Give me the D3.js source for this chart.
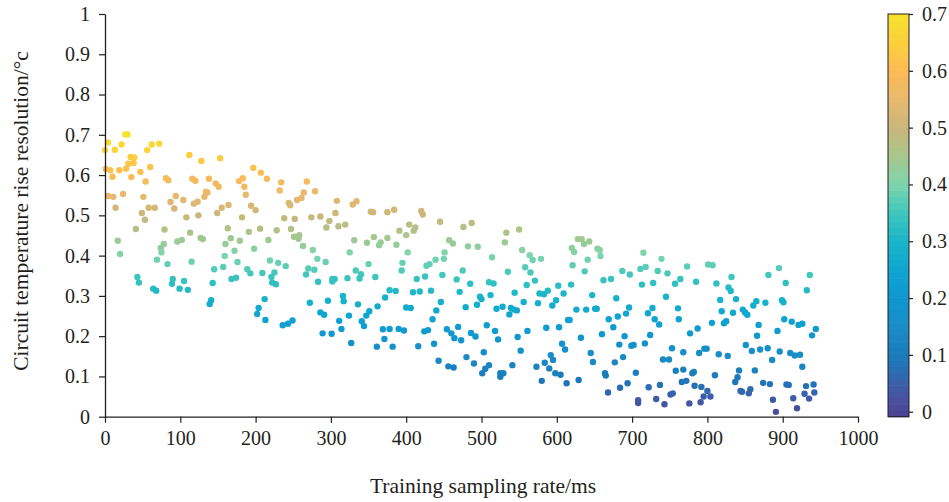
<!DOCTYPE html>
<html>
<head>
<meta charset="utf-8">
<script src="https://cdn.jsdelivr.net/npm/d3@7"></script>
<style>
  body { margin: 0; background: #fff; }
  svg text { font-family: "Liberation Serif", "DejaVu Serif", serif; fill: #231f20; }
</style>
</head>
<body>
<svg id="chart" width="949" height="502"></svg>
<script>
// [sampling rate (ms), temperature rise resolution (°c)]
const rate0to250 = [
  [27, .701], [30, .701], [4, .681], [0, .662], [13, .663], [22, .676], [56, .662], [62, .676], [72, .678], [34, .645],
  [39, .644], [38, .630], [31, .628], [28, .616], [19, .612], [1, .615], [7, .612], [10, .596], [35, .595], [47, .608],
  [60, .620], [54, .584], [112, .650], [128, .635], [153, .642], [81, .592], [84, .587], [116, .591], [120, .586], [138, .591],
  [147, .579], [151, .571], [178, .585], [183, .592], [185, .571], [187, .551], [197, .618], [207, .606], [215, .591], [234, .582],
  [232, .562], [4, .548], [11, .546], [24, .553], [51, .546], [14, .519], [49, .506], [58, .519], [66, .519], [53, .489],
  [87, .533], [94, .548], [104, .538], [92, .517], [118, .529], [123, .534], [134, .559], [136, .557], [132, .546], [108, .495],
  [124, .500], [149, .506], [155, .519], [164, .526], [182, .495], [194, .524], [200, .513], [244, .531], [246, .525], [238, .493],
  [252, .491], [41, .466], [79, .465], [113, .457], [127, .444], [130, .441], [96, .435], [102, .439], [163, .468], [167, .443],
  [160, .429], [191, .459], [206, .467], [228, .463], [247, .466], [251, .447], [217, .439], [179, .437], [172, .412], [198, .417],
  [17, .437], [20, .404], [74, .419], [78, .429], [75, .408], [69, .390], [83, .379], [115, .385], [159, .399], [157, .372],
  [145, .366], [176, .384], [189, .366], [193, .356], [209, .357], [219, .388], [225, .358], [230, .382], [240, .374], [221, .347],
  [222, .333], [227, .329], [43, .347], [45, .333], [64, .318], [68, .313], [90, .342], [89, .330], [99, .318], [105, .337],
  [110, .315], [143, .332], [141, .289], [139, .280], [168, .342], [174, .345], [212, .292], [204, .270], [202, .255], [213, .240],
  [236, .227], [243, .231], [249, .239]
];
const rate250to510 = [
  [268, .584], [279, .560], [264, .557], [261, .543], [255, .538], [308, .536], [329, .527], [334, .535], [306, .506], [274, .495],
  [286, .497], [298, .486], [294, .470], [310, .473], [319, .477], [353, .509], [356, .508], [375, .508], [384, .514], [420, .511],
  [422, .502], [445, .484], [476, .471], [487, .481], [391, .462], [404, .477], [412, .470], [410, .462], [400, .451], [375, .444],
  [357, .446], [348, .432], [366, .433], [364, .426], [387, .427], [331, .438], [325, .408], [258, .451], [257, .442], [263, .424],
  [276, .414], [282, .392], [293, .384], [270, .368], [278, .365], [267, .353], [283, .335], [302, .342], [305, .342], [302, .336],
  [322, .344], [333, .363], [340, .354], [338, .343], [350, .379], [359, .347], [394, .363], [395, .382], [402, .408], [427, .375],
  [431, .379], [439, .390], [451, .408], [450, .392], [448, .352], [425, .348], [414, .342], [457, .438], [462, .430], [482, .423],
  [495, .422], [475, .363], [467, .341], [485, .330], [471, .310], [479, .272], [494, .278], [498, .298], [500, .292], [378, .314],
  [386, .312], [372, .296], [362, .274], [336, .279], [316, .300], [317, .287], [296, .288], [272, .283], [286, .259], [291, .253],
  [311, .238], [324, .251], [314, .218], [289, .207], [301, .206], [327, .183], [341, .237], [344, .225], [347, .251], [351, .262],
  [369, .217], [378, .218], [390, .218], [397, .214], [371, .193], [361, .174], [382, .174], [400, .271], [406, .270], [409, .309],
  [418, .311], [433, .313], [446, .285], [440, .264], [435, .242], [424, .212], [429, .215], [454, .217], [460, .207], [464, .195],
  [469, .223], [473, .190], [486, .208], [492, .199], [437, .181], [416, .175], [443, .139], [456, .125], [463, .122], [480, .148],
  [490, .132], [503, .160], [507, .227], [501, .108], [505, .119], [510, .128], [510, .334]
];
const rate510to770 = [
  [533, .457], [550, .465], [531, .433], [514, .396], [554, .414], [564, .401], [568, .389], [579, .392], [558, .371], [565, .358],
  [571, .338], [535, .360], [516, .331], [512, .302], [544, .308], [560, .327], [528, .273], [520, .268], [539, .270], [543, .266],
  [547, .264], [537, .254], [556, .285], [575, .282], [577, .306], [583, .304], [588, .313], [602, .325], [609, .306], [599, .289],
  [594, .276], [619, .328], [621, .376], [623, .409], [620, .419], [628, .441], [633, .441], [636, .429], [643, .435], [654, .417],
  [657, .414], [658, .399], [641, .390], [637, .361], [647, .302], [662, .339], [672, .342], [687, .362], [697, .353], [711, .367],
  [718, .372], [715, .407], [734, .362], [739, .392], [747, .356], [764, .342], [757, .330], [728, .332], [713, .328], [745, .298],
  [679, .294], [696, .271], [692, .256], [681, .249], [669, .242], [675, .222], [727, .270], [721, .257], [730, .242], [736, .229],
  [761, .269], [762, .242], [724, .203], [717, .182], [702, .178], [699, .176], [683, .179], [690, .200], [660, .205], [651, .268],
  [653, .268], [639, .266], [626, .266], [632, .196], [615, .240], [617, .240], [603, .222], [586, .221], [561, .213], [548, .198],
  [522, .192], [518, .213], [607, .181], [611, .167], [552, .164], [592, .153], [595, .141], [584, .134], [590, .120], [573, .124],
  [541, .128], [598, .108], [605, .104], [580, .089], [613, .083], [629, .091], [645, .158], [648, .136], [664, .108], [665, .102],
  [677, .135], [688, .148], [705, .109], [694, .083], [684, .072], [668, .060], [722, .073], [737, .079], [732, .044], [743, .031],
  [751, .055], [754, .058], [708, .041], [708, .034], [741, .142], [749, .142], [753, .170], [768, .160], [758, .114], [768, .117],
  [766, .086], [525, .099], [525, .108], [529, .108]
];
const rate770to950 = [
  [773, .373], [801, .378], [807, .376], [785, .335], [832, .347], [812, .331], [828, .321], [831, .312], [838, .292], [817, .290],
  [819, .262], [834, .258], [847, .266], [850, .259], [853, .253], [861, .276], [865, .287], [877, .283], [881, .352], [895, .369],
  [904, .332], [932, .314], [936, .352], [899, .289], [901, .284], [868, .228], [866, .201], [893, .213], [902, .242], [912, .236],
  [921, .228], [926, .231], [944, .218], [939, .202], [806, .233], [822, .232], [825, .237], [787, .219], [777, .207], [789, .158],
  [796, .169], [799, .169], [815, .155], [827, .151], [851, .178], [859, .163], [870, .167], [880, .170], [886, .141], [896, .162],
  [910, .158], [916, .152], [923, .154], [926, .124], [863, .115], [842, .115], [840, .098], [837, .086], [810, .103], [780, .108],
  [782, .111], [772, .089], [783, .077], [792, .074], [800, .064], [795, .050], [804, .050], [791, .036], [776, .033], [844, .064],
  [846, .062], [857, .068], [855, .058], [874, .084], [883, .081], [905, .080], [908, .079], [887, .042], [891, .012], [914, .046],
  [919, .021], [931, .076], [941, .080], [929, .057], [935, .045], [942, .060]
];

const xTicks = [0, 100, 200, 300, 400, 500, 600, 700, 800, 900, 1000];
const yTicks = [0, 0.1, 0.2, 0.3, 0.4, 0.5, 0.6, 0.7, 0.8, 0.9, 1];
const colorTicks = [0, 0.1, 0.2, 0.3, 0.4, 0.5, 0.6, 0.7];

// colour ramp of the bar (value -> colour)
const rampStops = [0, 0.02, 0.05, 0.07, 0.1, 0.15, 0.2, 0.25, 0.3, 0.35, 0.4, 0.45, 0.5, 0.55, 0.6, 0.65, 0.7];
const rampColors = ["#4c4596", "#4a509e", "#3c5ea9", "#2a6db2", "#1a7cba", "#1a8cc6", "#0f97cf", "#0fa5d1", "#19b5c9",
  "#3fc6bd", "#7ed5ad", "#a8c68c", "#c9b77a", "#e9b86f", "#fdbb55", "#fbcf3c", "#f6e22b"];

const CONFIG = {
  plot: { left: 105, right: 858, top: 14, bottom: 416.7 },
  bar: { x: 888, width: 21, top: 14, zeroY: 411.7, bottom: 416.7, bands: 64 },
  tickFont: 20,
  titleFont: 21.5,
  dotRadius: 3.2,
  ink: "#231f20"
};

const svg = d3.select("#chart");
const { plot, bar } = CONFIG;

const x = d3.scaleLinear().domain([0, 1000]).range([plot.left, plot.right]);
const y = d3.scaleLinear().domain([0, 1]).range([plot.bottom, plot.top]);
const color = d3.scaleLinear().domain(rampStops).range(rampColors).clamp(true);

function styleAxis(g) {
  g.selectAll("path.domain").attr("stroke", CONFIG.ink).attr("stroke-width", 1.3);
  g.selectAll(".tick line").attr("stroke", CONFIG.ink).attr("stroke-width", 1.2);
  g.selectAll(".tick text")
    .style("font-family", '"Liberation Serif", serif')
    .style("font-size", CONFIG.tickFont + "px")
    .attr("fill", CONFIG.ink);
}

// points (colour follows the resolution value)
const points = [...rate0to250, ...rate250to510, ...rate510to770, ...rate770to950];
svg.append("g")
  .selectAll("circle")
  .data(points)
  .join("circle")
  .attr("cx", d => x(d[0]))
  .attr("cy", d => y(d[1]))
  .attr("r", CONFIG.dotRadius)
  .attr("fill", d => color(d[1]));

// axes
svg.append("g")
  .attr("transform", `translate(0,${plot.bottom})`)
  .call(d3.axisBottom(x).tickValues(xTicks).tickSize(6).tickSizeOuter(0).tickPadding(8).tickFormat(d3.format("")))
  .call(styleAxis);

svg.append("g")
  .attr("transform", `translate(${plot.left},0)`)
  .call(d3.axisLeft(y).tickValues(yTicks).tickSize(6).tickSizeOuter(0).tickPadding(9).tickFormat(d3.format("")))
  .call(styleAxis);

// axis titles
svg.append("text")
  .attr("x", 483)
  .attr("y", 493)
  .attr("text-anchor", "middle")
  .style("font-size", CONFIG.titleFont + "px")
  .text("Training sampling rate/ms");

svg.append("text")
  .attr("transform", `translate(28,211) rotate(-90)`)
  .attr("text-anchor", "middle")
  .style("font-size", CONFIG.titleFont + "px")
  .text("Circuit temperature rise resolution/°c");

// colour bar
const c = d3.scaleLinear().domain([0, 0.7]).range([bar.zeroY, bar.top]);
const lowVal = c.invert(bar.bottom);
const bandH = (bar.bottom - bar.top) / bar.bands;
const cb = svg.append("g");
cb.selectAll("rect.band")
  .data(d3.range(bar.bands))
  .join("rect")
  .attr("class", "band")
  .attr("x", bar.x)
  .attr("width", bar.width)
  .attr("y", i => bar.bottom - (i + 1) * bandH)
  .attr("height", bandH + 0.6)
  .attr("fill", i => color(lowVal + (i + 0.5) * (0.7 - lowVal) / bar.bands));

cb.append("rect")
  .attr("x", bar.x)
  .attr("y", bar.top)
  .attr("width", bar.width)
  .attr("height", bar.bottom - bar.top)
  .attr("fill", "none")
  .attr("stroke", CONFIG.ink)
  .attr("stroke-width", 1);

cb.append("g")
  .attr("transform", `translate(${bar.x + bar.width},0)`)
  .call(d3.axisRight(c).tickValues(colorTicks).tickSize(4).tickSizeOuter(0).tickPadding(9).tickFormat(d3.format("")))
  .call(styleAxis)
  .call(g => g.select("path.domain").remove());
</script>
</body>
</html>
